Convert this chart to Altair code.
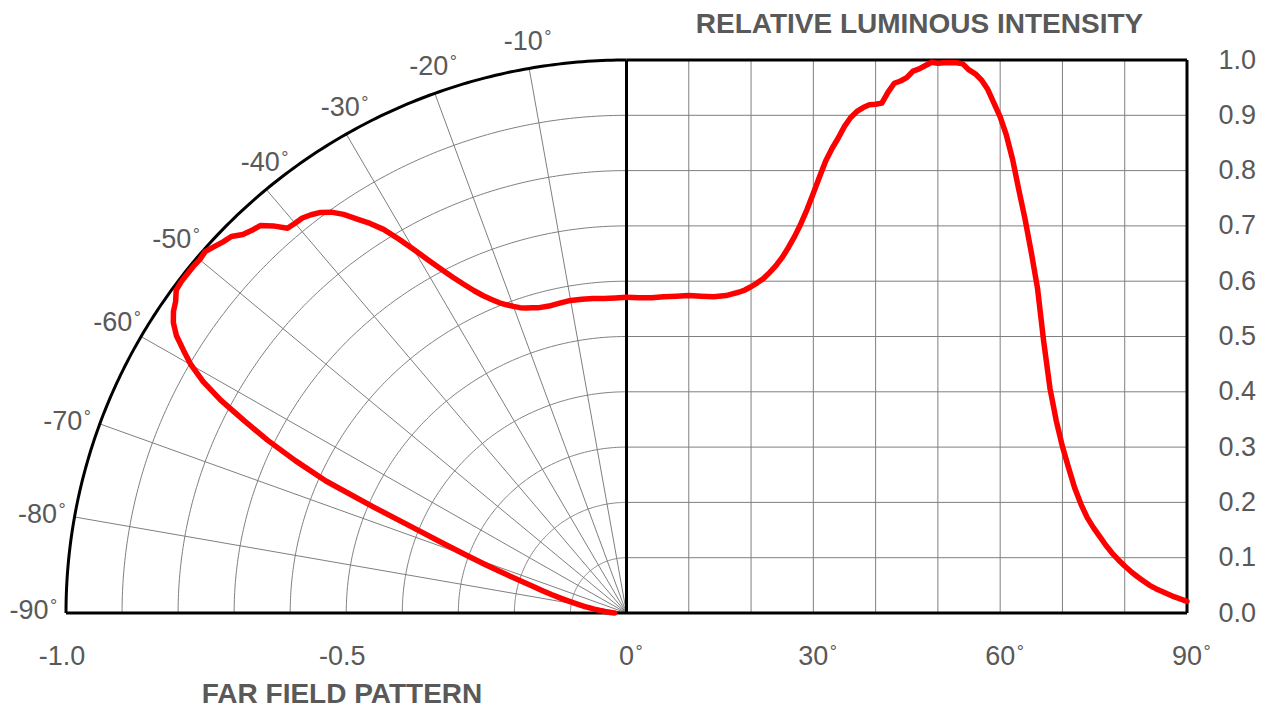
import altair as alt
import pandas as pd

# ---- data ----
angles = [0, 2, 4, 6, 8, 10, 12, 14, 16, 17, 18, 19, 20, 21, 22, 23, 24, 25, 26, 27,
          28, 29, 30, 31, 32, 33, 34, 35, 36, 37, 38, 39, 40, 41, 42, 43, 44, 45, 46, 47,
          48, 49, 50, 51, 52, 53, 54, 55, 56, 57, 58, 59, 60, 61, 62, 63, 64, 65, 66, 67,
          68, 69, 70, 71, 72, 73, 74, 75, 76, 77, 78, 79, 80, 81, 82, 83, 84, 85, 86, 87,
          88, 89, 90]
intensity = [0.571, 0.570, 0.570, 0.572, 0.573, 0.574, 0.573, 0.572, 0.574, 0.577,
             0.580, 0.584, 0.590, 0.597, 0.605, 0.616, 0.628, 0.643, 0.661, 0.681,
             0.704, 0.730, 0.759, 0.789, 0.818, 0.840, 0.859, 0.880, 0.896, 0.907,
             0.914, 0.919, 0.920, 0.922, 0.942, 0.958, 0.962, 0.968, 0.980, 0.984,
             0.990, 0.996, 0.994, 0.995, 0.995, 0.995, 0.993, 0.982, 0.975, 0.964,
             0.947, 0.922, 0.897, 0.864, 0.820, 0.765, 0.712, 0.652, 0.587, 0.490,
             0.406, 0.348, 0.301, 0.262, 0.225, 0.196, 0.172, 0.154, 0.138, 0.122,
             0.108, 0.096, 0.085, 0.075, 0.066, 0.058, 0.050, 0.044, 0.039, 0.034,
             0.029, 0.025, 0.021]

grid_angles = [10, 20, 30, 40, 50, 60, 70, 80]
grid_levels = [0.1, 0.2, 0.3, 0.4, 0.5, 0.6, 0.7, 0.8, 0.9]
polar_label_angles = [10, 20, 30, 40, 50, 60, 70, 80, 90]
left_ticks = [-1.0, -0.5]
left_tick_labels = ["-1.0", "-0.5"]
right_ticks = [0, 30, 60, 90]
right_axis_values = [0.0, 0.1, 0.2, 0.3, 0.4, 0.5, 0.6, 0.7, 0.8, 0.9, 1.0]

TOP_TITLE = "RELATIVE LUMINOUS INTENSITY"
BOTTOM_TITLE = "FAR FIELD PATTERN"

# ---- styles ----
FONT = "Liberation Sans"
TXT = "#595959"
GRID = "#7f7f7f"
RED = "#ff0000"
LBL = 27
DEG = 18

XS = alt.Scale(domain=[-1, 1], nice=False, zero=False)
YS = alt.Scale(domain=[0, 1], nice=False, zero=False)

X_AX = alt.Axis(labels=False, ticks=False, domain=False, grid=False,
                title=BOTTOM_TITLE, titleX=275.5, titleY=89, titleAlign="center",
                titleBaseline="alphabetic", titleFont=FONT, titleFontSize=28,
                titleFontWeight="bold", titleColor=TXT)
Y_AX = alt.Axis(orient="right", values=right_axis_values, format=".1f",
                labelFont=FONT, labelFontSize=LBL, labelColor=TXT, labelPadding=31,
                labelAlign="left", labelFlush=False, labelOverlap=False,
                domain=False, ticks=False, grid=False,
                title=TOP_TITLE, titleAngle=0, titleX=-268, titleY=-28,
                titleAlign="center", titleBaseline="alphabetic", titleFont=FONT,
                titleFontSize=28, titleFontWeight="bold", titleColor=TXT)


def X(field="x"):
    return alt.X(f"{field}:Q", scale=XS, axis=X_AX)


def Y(field="y"):
    return alt.Y(f"{field}:Q", scale=YS, axis=Y_AX)


curve_df = pd.DataFrame({"a": angles, "v": intensity})

# right panel grid
vgrid = alt.Chart(pd.DataFrame({"a": grid_angles})).transform_calculate(
    x="datum.a/90").mark_rule(color=GRID, strokeWidth=1).encode(x=X())
hgrid = alt.Chart(pd.DataFrame({"y": grid_levels})).transform_calculate(
    x="0", xe="1").mark_rule(color=GRID, strokeWidth=1).encode(
    y=Y(), x=X(), x2="xe:Q")

# polar grid
radial = alt.Chart(pd.DataFrame({"a": grid_angles})).transform_calculate(
    x="0", y="0",
    xe="-sin(datum.a*PI/180)", ye="cos(datum.a*PI/180)").mark_rule(
    color=GRID, strokeWidth=1).encode(x=X(), y=Y(), x2="xe:Q", y2="ye:Q")


def rings(radii, color, width):
    return alt.Chart(pd.DataFrame({"r": radii})).transform_calculate(
        t="sequence(0, 90.5, 0.5)").transform_flatten(["t"]).transform_calculate(
        x="-datum.r*sin(datum.t*PI/180)", y="datum.r*cos(datum.t*PI/180)").mark_line(
        color=color, strokeWidth=width).encode(
        x=X(), y=Y(), detail="r:N", order="t:Q")


inner_rings = rings(grid_levels, GRID, 1)
outer_ring = rings([1.0], "black", 3)

# frame
base = alt.Chart(pd.DataFrame({"k": [0]}))
f_bottom = base.mark_rule(color="black", strokeWidth=3).encode(y=alt.Y(datum=0, scale=YS, axis=Y_AX))
f_center = base.mark_rule(color="black", strokeWidth=3).encode(x=alt.X(datum=0, scale=XS, axis=X_AX))
f_right = base.mark_rule(color="black", strokeWidth=3).encode(x=alt.X(datum=1, scale=XS, axis=X_AX))
f_top = base.mark_rule(color="black", strokeWidth=3).encode(
    y=alt.Y(datum=1, scale=YS, axis=Y_AX), x=alt.X(datum=0, scale=XS, axis=X_AX), x2=alt.datum(1))

# red curves
right_curve = alt.Chart(curve_df).transform_calculate(
    x="datum.a/90", y="datum.v").mark_line(
    color=RED, strokeWidth=5.5, strokeCap="round", strokeJoin="round").encode(
    x=X(), y=Y(), order="a:Q")
left_curve = alt.Chart(curve_df).transform_calculate(
    x="-datum.v*sin(datum.a*PI/180)", y="datum.v*cos(datum.a*PI/180)").mark_line(
    color=RED, strokeWidth=5.5, strokeCap="round", strokeJoin="round").encode(
    x=X(), y=Y(), order="a:Q")

# polar angle labels (Excel-like placement: above the arc, diagonal, left of the arc)
pl = alt.Chart(pd.DataFrame({"a": polar_label_angles})).transform_calculate(
    lab="'-' + datum.a", deg="'\u00b0'",
    rr="datum.a >= 45 && datum.a <= 65 ? 1.05 : 1.0").transform_calculate(
    x="-datum.rr*sin(datum.a*PI/180)", y="datum.rr*cos(datum.a*PI/180)")


def polar_group(flt, ndx, ndy):
    g = pl.transform_filter(flt)
    num = g.mark_text(font=FONT, fontSize=LBL, color=TXT, align="center",
                      baseline="middle", dx=ndx, dy=ndy).encode(x=X(), y=Y(), text="lab:N")
    deg = g.mark_text(font=FONT, fontSize=DEG, color=TXT, align="left",
                      baseline="middle", dx=ndx + 21, dy=ndy - 4).encode(x=X(), y=Y(), text="deg:N")
    return [num, deg]


polar_labels = (polar_group("datum.a <= 40", -6, -26)
                + polar_group("datum.a >= 45 && datum.a <= 65", -4, 0)
                + polar_group("datum.a >= 70", -37, -2))

# bottom labels
bl = alt.Chart(pd.DataFrame({"x": left_ticks, "lab": left_tick_labels})).transform_calculate(y="0")
bottom_left = bl.mark_text(font=FONT, fontSize=LBL, color=TXT, align="center",
                           baseline="middle", dx=-4, dy=44).encode(x=X(), y=Y(), text="lab:N")
br = alt.Chart(pd.DataFrame({"a": right_ticks})).transform_calculate(
    x="datum.a/90", y="0", lab="'' + datum.a", deg="'\u00b0'")
bottom_right = br.mark_text(font=FONT, fontSize=LBL, color=TXT, align="center",
                            baseline="middle", dy=44).encode(x=X(), y=Y(), text="lab:N")
deg_one = br.transform_filter("datum.a < 10").mark_text(
    font=FONT, fontSize=DEG, color=TXT, align="left", baseline="middle", dx=9, dy=40).encode(
    x=X(), y=Y(), text="deg:N")
deg_two = br.transform_filter("datum.a >= 10").mark_text(
    font=FONT, fontSize=DEG, color=TXT, align="left", baseline="middle", dx=16.5, dy=40).encode(
    x=X(), y=Y(), text="deg:N")

chart = alt.layer(
    vgrid, hgrid, radial, inner_rings,
    f_bottom, f_center, f_right, f_top, outer_ring,
    left_curve, right_curve,
    *polar_labels, bottom_left, bottom_right, deg_one, deg_two,
).properties(
    width=1121, height=553,
    autosize=alt.AutoSizeParams(type="none"),
    padding={"left": 58, "top": 52, "right": 78, "bottom": 95},
    background="white",
).configure_view(stroke=None)

chart.save("out.html", embed_options={"renderer": "svg", "actions": False})
